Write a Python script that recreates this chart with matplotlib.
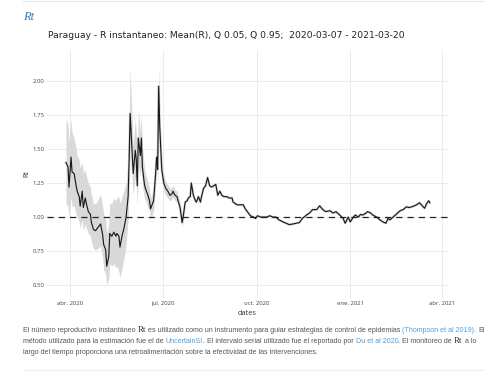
import numpy as np
import matplotlib
matplotlib.use("Agg")
import matplotlib.pyplot as plt
import matplotlib.dates as mdates
from matplotlib.lines import Line2D

W, H = 500, 376

# ---- data (days since 2020-04-01) ----
band_day = [-4, -2, -1, 1, 2, 4, 6, 7, 9, 10, 12, 13, 15, 16, 18, 20, 21, 23, 25, 27, 29, 30,
            32, 33, 35, 36, 38, 39, 41, 43, 45, 46, 48, 49, 51, 53, 55, 57, 58, 59, 61, 62,
            64, 65, 66, 67, 69, 70, 71, 73, 74, 76, 78, 79, 81, 82, 84, 85, 86, 87, 88, 90,
            92, 94, 96, 98, 100, 101, 103, 105, 106, 108, 110, 111]
band_lo = [1.10, 1.08, 1.00, 1.15, 1.08, 1.08, 1.02, 1.00, 0.97, 0.92, 0.98, 0.90, 0.95, 0.92,
           0.88, 0.86, 0.82, 0.77, 0.76, 0.77, 0.78, 0.79, 0.70, 0.62, 0.58, 0.50, 0.55, 0.66,
           0.64, 0.66, 0.63, 0.64, 0.60, 0.56, 0.62, 0.70, 0.80, 0.98, 1.20, 1.50, 1.28, 1.16,
           1.30, 1.25, 1.08, 1.38, 1.30, 1.40, 1.24, 1.14, 1.12, 1.08, 1.04, 0.99, 1.02, 1.05,
           1.24, 1.34, 1.26, 1.82, 1.56, 1.28, 1.19, 1.16, 1.14, 1.12, 1.13, 1.15, 1.12, 1.11,
           1.09, 1.04, 0.93, 0.97]
band_hi = [1.72, 1.68, 1.55, 1.72, 1.62, 1.58, 1.50, 1.45, 1.42, 1.36, 1.40, 1.32, 1.35, 1.30,
           1.25, 1.22, 1.16, 1.10, 1.10, 1.12, 1.15, 1.17, 1.08, 1.02, 0.98, 0.88, 0.95, 1.10,
           1.10, 1.14, 1.12, 1.14, 1.15, 1.10, 1.15, 1.20, 1.25, 1.40, 1.70, 2.10, 1.70, 1.52,
           1.72, 1.62, 1.42, 1.80, 1.62, 1.76, 1.52, 1.36, 1.32, 1.27, 1.21, 1.14, 1.18, 1.20,
           1.42, 1.54, 1.46, 2.10, 1.80, 1.43, 1.31, 1.26, 1.24, 1.21, 1.22, 1.23, 1.20, 1.19,
           1.16, 1.11, 1.00, 1.03]

r_day = band_day + [113, 115, 116, 118, 119, 121, 123, 124, 126, 128, 129, 131, 133, 135, 137,
                    139, 141, 143, 145, 147, 149, 151, 154, 156, 159, 160, 164, 167, 170, 172,
                    174, 177, 180, 182, 184, 187, 190, 193, 196, 199, 202, 205, 209, 212, 215,
                    219, 222, 225, 228, 232, 235, 238, 242, 245, 248, 251, 255, 258, 261, 264,
                    268, 270, 273, 275, 278, 280, 283, 285, 287, 290, 292, 295, 297, 301, 304,
                    307, 310, 312, 314, 317, 320, 324, 327, 330, 333, 337, 340, 343, 346, 348,
                    350, 352, 353]
r_mean = [1.40, 1.37, 1.22, 1.44, 1.33, 1.32, 1.23, 1.19, 1.15, 1.08, 1.19, 1.07, 1.14, 1.10,
          1.04, 1.02, 0.96, 0.91, 0.90, 0.92, 0.94, 0.95, 0.87, 0.80, 0.76, 0.64, 0.71, 0.88,
          0.86, 0.89, 0.86, 0.88, 0.86, 0.78, 0.86, 0.92, 1.00, 1.15, 1.42, 1.76, 1.47, 1.32,
          1.49, 1.42, 1.23, 1.58, 1.45, 1.58, 1.37, 1.24, 1.21, 1.17, 1.12, 1.06, 1.10, 1.12,
          1.32, 1.44, 1.35, 1.96, 1.67, 1.35, 1.25, 1.21, 1.19, 1.16, 1.17, 1.19, 1.16, 1.15,
          1.12, 1.07, 0.96, 1.00,
          1.11, 1.12, 1.14, 1.15, 1.25, 1.16, 1.12, 1.11, 1.15, 1.11, 1.15, 1.21, 1.23, 1.29,
          1.23, 1.22, 1.23, 1.24, 1.16, 1.19, 1.16, 1.15, 1.15, 1.14, 1.14, 1.11, 1.09, 1.09,
          1.09, 1.06, 1.04, 1.01, 1.00, 0.99, 1.01, 1.00, 1.00, 1.00, 1.01, 1.00, 1.00, 0.98,
          0.965, 0.955, 0.945, 0.95, 0.955, 0.96, 0.99, 1.015, 1.03, 1.055, 1.055, 1.083, 1.055,
          1.04, 1.047, 1.03, 1.04, 1.02, 0.99, 0.955, 1.00, 0.965, 1.00, 1.015, 1.00, 1.02,
          1.015, 1.027, 1.04, 1.03, 1.015, 1.00, 0.98, 0.965, 0.955, 0.99, 0.98, 1.00, 1.02,
          1.047, 1.055, 1.075, 1.07, 1.08, 1.09, 1.105, 1.08, 1.065, 1.10, 1.12, 1.105]

y_ticks = [0.50, 0.75, 1.00, 1.25, 1.50, 1.75, 2.00]
x_tick_dates = ["2020-04-01", "2020-07-01", "2020-10-01", "2021-01-01", "2021-04-01"]
x_tick_labels = ["abr. 2020", "jul. 2020", "oct. 2020", "ene. 2021", "abr. 2021"]
title = "Paraguay - R instantaneo: Mean(R), Q 0.05, Q 0.95;  2020-03-07 - 2021-03-20"

base = mdates.datestr2num("2020-04-01")
bx = base + np.array(band_day, dtype=float)
rx = base + np.array(r_day, dtype=float)

fig = plt.figure(figsize=(W / 100, H / 100), dpi=100)
fig.patch.set_facecolor("white")


def fx(x):
    return x / W


def fy(y):
    return 1 - y / H


# panel
ax = fig.add_axes([fx(47), fy(298), (448 - 47) / W, (298 - 50) / H])
ax.set_facecolor("white")
for s in ax.spines.values():
    s.set_visible(False)

ax.fill_between(bx, band_lo, band_hi, color="#d9d9d9", lw=0, zorder=2)
ax.plot(rx, r_mean, color="#dcdcdc", lw=1.8, zorder=2.5, solid_joinstyle="round")
ax.plot(rx, r_mean, color="#1a1a1a", lw=0.85, zorder=3)
ax.axhline(1.0, color="#222222", lw=0.9, ls=(0, (5, 4)), zorder=4)

ax.set_xlim(base - 22.6, base + 370.9)
ax.set_ylim(0.407, 2.225)
ax.set_yticks(y_ticks)
ax.set_yticklabels([f"{v:.2f}" for v in y_ticks])
ax.set_xticks([mdates.datestr2num(d) for d in x_tick_dates])
ax.set_xticklabels(x_tick_labels)
ax.grid(True, color="#ececec", lw=0.7, zorder=0)
ax.set_axisbelow(True)
ax.tick_params(length=0, labelsize=4.3, labelcolor="#444444", pad=2,
               labelfontfamily="Open Sans")
ax.set_xlabel("dates", fontsize=5.3, color="#333333", family="Open Sans", labelpad=3)
ax.set_ylabel("Rt", fontsize=5.0, color="#333333", family="Open Sans", labelpad=1)

# title & heading
fig.text(fx(48), fy(36), title, fontsize=6.6, color="#222222", family="DejaVu Sans",
         ha="left", va="center")
fig.text(fx(23), fy(17), "Rt", fontsize=9, color="#2f7fbf", family="Liberation Serif",
         style="italic", ha="left", va="center")

# rules
fig.add_artist(Line2D([fx(23), fx(483)], [fy(1), fy(1)], color="#e6e6e6", lw=0.8))
fig.add_artist(Line2D([fx(23), fx(483)], [fy(370), fy(370)], color="#eeeeee", lw=0.8))

# paragraph
renderer = fig.canvas.get_renderer()
TXT = "#555555"
LINK = "#4a9fe0"
psize = 5.1


def measure(s, **kw):
    t1 = fig.text(0, 0, "|" + s + "|", fontsize=psize, **kw)
    t2 = fig.text(0, 0, "||", fontsize=psize, **kw)
    w = t1.get_window_extent(renderer).width - t2.get_window_extent(renderer).width
    t1.remove()
    t2.remove()
    return w


def rich_line(x0, y, pieces):
    x = x0
    for s, color, fam, style, sz in pieces:
        kw = dict(family=fam, style=style)
        fig.text(fx(x), fy(y), s.strip(), fontsize=psize * sz, color=color, ha="left",
                 va="baseline", **kw)
        x += measure(s, **kw) * sz


S = "Liberation Sans"
SR = "Liberation Serif"
rich_line(23, 332, [
    ("El número reproductivo instantáneo ", TXT, S, "normal", 1),
    ("Rt ", "#333333", SR, "normal", 1.25),
    ("es utilizado como un instrumento para guiar estrategias de control de epidemias ", TXT, S, "normal", 1),
    ("(Thompson et al 2019). ", LINK, S, "normal", 1),
    ("El", TXT, S, "normal", 1),
])
rich_line(23, 343, [
    ("método utilizado para la estimación fue el de ", TXT, S, "normal", 1),
    ("UncertainSI", LINK, S, "normal", 1),
    (". El intervalo serial utilizado fue el reportado por ", TXT, S, "normal", 1),
    ("Du et al 2020", LINK, S, "normal", 1),
    (". El monitoreo de ", TXT, S, "normal", 1),
    ("Rt ", "#333333", SR, "normal", 1.25),
    ("a lo", TXT, S, "normal", 1),
])
rich_line(23, 354, [
    ("largo del tiempo proporciona una retroalimentación sobre la efectividad de las intervenciones.", TXT, S, "normal", 1),
])

fig.savefig("out.png", dpi=100, facecolor="white")
